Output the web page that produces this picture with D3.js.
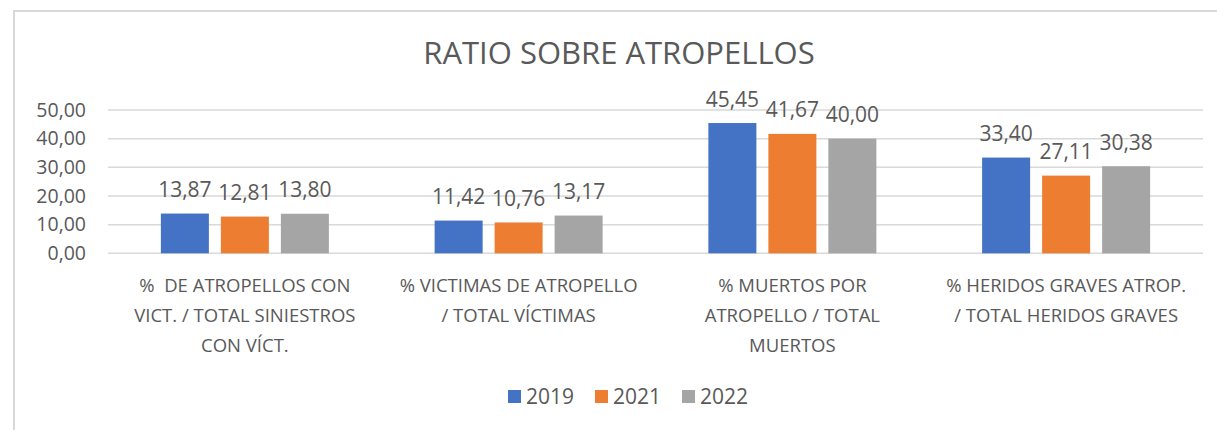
<!DOCTYPE html>
<html>
<head>
<meta charset="utf-8">
<script src="https://cdn.jsdelivr.net/npm/d3@7"></script>
<style>
    body { margin: 0; background: #ffffff; }
    svg { display: block; }
    text { font-family: "Open Sans", "Liberation Sans", sans-serif; fill: #595959; }
</style>
</head>
<body>
<div id="chart"></div>
<script>
// data
var categories = [
    "% DE ATROPELLOS CON VICT. / TOTAL SINIESTROS CON VÍCT.",
    "% VICTIMAS DE ATROPELLO / TOTAL VÍCTIMAS",
    "% MUERTOS POR ATROPELLO / TOTAL MUERTOS",
    "% HERIDOS GRAVES ATROP. / TOTAL HERIDOS GRAVES"
];
var category_lines = [
    ["%  DE ATROPELLOS CON", "VICT. / TOTAL SINIESTROS", "CON VÍCT."],
    ["% VICTIMAS DE ATROPELLO", "/ TOTAL VÍCTIMAS"],
    ["% MUERTOS POR", "ATROPELLO / TOTAL", "MUERTOS"],
    ["% HERIDOS GRAVES ATROP.", "/ TOTAL HERIDOS GRAVES"]
];
var years = ["2019", "2021", "2022"];
var values_2019 = [13.87, 11.42, 45.45, 33.40];
var values_2021 = [12.81, 10.76, 41.67, 27.11];
var values_2022 = [13.80, 13.17, 40.00, 30.38];
var y_ticks = [0, 10, 20, 30, 40, 50];
var colors = ["#4472c4", "#ed7d31", "#a5a5a5"];

var series = [values_2019, values_2021, values_2022];

var width = 1217;
var height = 430;

var fmt = function(v) { return d3.format(".2f")(v).replace(".", ","); };

var svg = d3.select("#chart").append("svg")
    .attr("width", width)
    .attr("height", height);

// chart frame (only top and left visible in the crop)
svg.append("path")
    .attr("d", "M14," + height + "V11H" + width)
    .attr("fill", "none")
    .attr("stroke", "#d9d9d9")
    .attr("stroke-width", 2);

svg.append("text")
    .attr("x", 619)
    .attr("y", 64)
    .attr("text-anchor", "middle")
    .style("font-size", "31px")
    .text("RATIO SOBRE ATROPELLOS");

var x0 = d3.scaleBand()
    .domain(categories)
    .range([108, 1203])
    .padding(0);

var group_w = 168;
var x1 = d3.scaleBand()
    .domain(years)
    .range([(x0.bandwidth() - group_w) / 2, (x0.bandwidth() + group_w) / 2])
    .paddingInner(0.2)
    .paddingOuter(0);

var y = d3.scaleLinear()
    .domain([0, 50])
    .range([253.3, 110]);

// gridlines
svg.append("g")
    .selectAll("line")
    .data(y_ticks)
    .join("line")
    .attr("x1", x0.range()[0])
    .attr("x2", x0.range()[1])
    .attr("y1", d => y(d))
    .attr("y2", d => y(d))
    .attr("stroke", "#d9d9d9")
    .attr("stroke-width", 1.5);

// y axis labels
var yAxis = svg.append("g")
    .attr("transform", "translate(108,0)")
    .call(d3.axisLeft(y).tickValues(y_ticks).tickFormat(fmt).tickSize(0).tickPadding(22));
yAxis.select(".domain").remove();
yAxis.selectAll("text")
    .style("font-size", "19.5px")
    .attr("fill", "#595959")
    .style("font-family", "\"Open Sans\", sans-serif");

// bars
var groups = svg.append("g")
    .selectAll("g")
    .data(categories)
    .join("g")
    .attr("transform", d => `translate(${x0(d)},0)`);

groups.selectAll("rect")
    .data((d, i) => years.map((yr, j) => ({year: yr, value: series[j][i], color: colors[j]})))
    .join("rect")
    .attr("x", d => x1(d.year))
    .attr("y", d => y(d.value))
    .attr("width", x1.bandwidth())
    .attr("height", d => y(0) - y(d.value))
    .attr("fill", d => d.color);

groups.selectAll("text.value")
    .data((d, i) => years.map((yr, j) => ({year: yr, value: series[j][i]})))
    .join("text")
    .attr("class", "value")
    .attr("x", d => x1(d.year) + x1.bandwidth() / 2)
    .attr("y", d => y(d.value) - 16.5)
    .attr("text-anchor", "middle")
    .style("font-size", "21px")
    .text(d => fmt(d.value));

// category labels
groups.append("text")
    .attr("text-anchor", "middle")
    .style("font-size", "18.5px")
    .style("white-space", "pre")
    .selectAll("tspan")
    .data((d, i) => category_lines[i])
    .join("tspan")
    .attr("x", x0.bandwidth() / 2)
    .attr("y", (d, i) => 292 + i * 30)
    .text(d => d);

// legend
var legend = svg.append("g")
    .selectAll("g")
    .data(years)
    .join("g")
    .attr("transform", (d, i) => `translate(${508 + i * 87},0)`);

legend.append("rect")
    .attr("x", 0)
    .attr("y", 390)
    .attr("width", 13)
    .attr("height", 13)
    .attr("fill", (d, i) => colors[i]);

legend.append("text")
    .attr("x", 18)
    .attr("y", 404)
    .style("font-size", "21px")
    .text(d => d);
</script>
</body>
</html>
